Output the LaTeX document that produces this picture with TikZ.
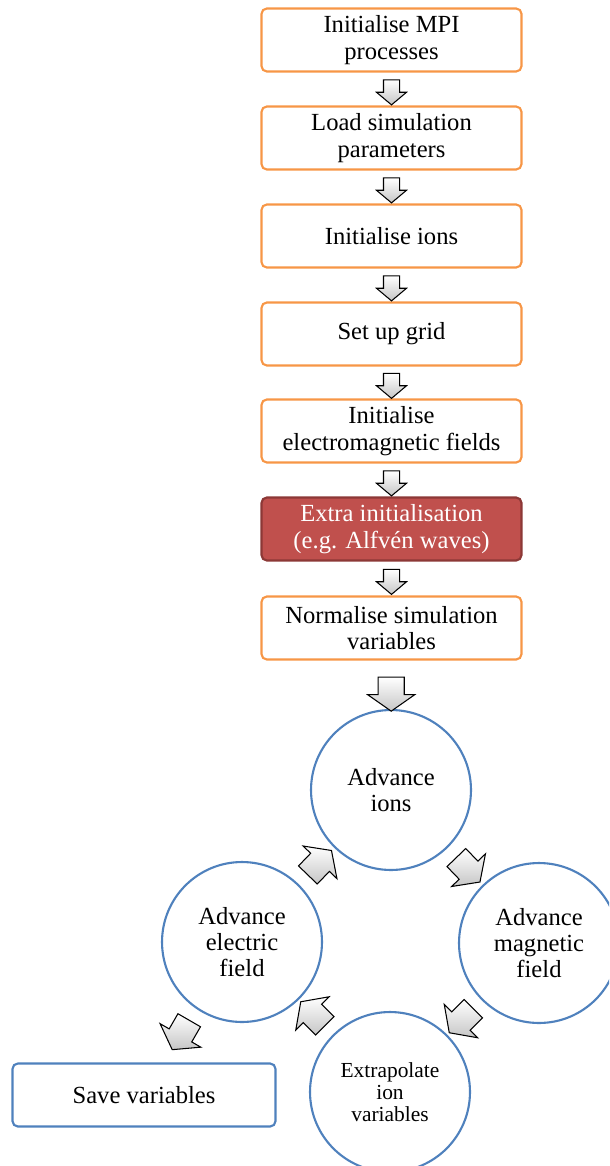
\documentclass[tikz,border=0pt]{standalone}
\usepackage{fontspec}
\setmainfont{Liberation Serif}
\usetikzlibrary{shapes.arrows,calc}
\definecolor{boxorange}{RGB}{247,150,70}
\definecolor{boxred}{RGB}{192,80,77}
\definecolor{boxredline}{RGB}{140,56,54}
\definecolor{loopblue}{RGB}{79,129,189}
\tikzset{
  initbox/.style={draw=boxorange,line width=1.2pt,rounded corners=3pt,fill=white,minimum width=5.2cm,minimum height=1.26cm,align=center,font=\fontsize{14}{15}\selectfont},
  extrabox/.style={initbox,draw=boxredline,fill=boxred,text=white},
  outbox/.style={initbox,draw=loopblue,minimum width=5.26cm},
  loopstep/.style={circle,draw=loopblue,line width=1.2pt,fill=white,minimum size=3.2cm,inner sep=0pt,align=center,font=\fontsize{14}{15}\selectfont},
  barrow/.style={single arrow,draw=black,line width=0.6pt,top color=white,bottom color=gray!45,inner xsep=0pt,inner ysep=0.15cm,minimum height=0.5cm,single arrow head extend=0.14cm,single arrow tip angle=100},
  bigarrow/.style={barrow,inner ysep=0.25cm,minimum height=0.68cm,single arrow head extend=0.21cm,single arrow tip angle=110}
}
\begin{document}
\begin{tikzpicture}[x=0.02cm,y=-0.02cm]
\clip (0,0) rectangle (609,1166);
% set-up stages
\node[initbox] (mpi) at (391.5,40) {Initialise MPI\\processes};
\node[initbox] (params) at (391.5,138) {Load simulation\\parameters};
\node[initbox] (ions0) at (391.5,236) {Initialise ions};
\node[initbox] (grid) at (391.5,334) {Set up grid};
\node[initbox] (fields) at (391.5,431) {Initialise\\electromagnetic fields};
\node[extrabox] (extra) at (391.5,529) {Extra initialisation\\(e.g. Alfvén waves)};
\node[initbox] (norm) at (391.5,628) {Normalise simulation\\variables};
% main loop
\node[loopstep] (ions) at (391,790) {Advance\\ions};
\node[loopstep] (bfield) at (539,943) {Advance\\magnetic\\field};
\node[loopstep,font=\fontsize{12.2}{12.6}\selectfont] (extrap) at (390,1092) {Extrapolate\\ion\\variables};
\node[loopstep] (efield) at (242,942) {Advance\\electric\\field};
\node[outbox] (save) at (144,1095) {Save variables};
% block arrows
\foreach \a/\b in {mpi/params,params/ions0,ions0/grid,grid/fields,fields/extra,extra/norm}
  \node[barrow,rotate=-90] at ($(\a.south)!0.5!(\b.north)$) {};
\node[bigarrow,rotate=-90] (into) at ($(norm.south)!0.6!(ions.north)$) {};
\node[bigarrow,rotate=-46] (ib) at ($(ions)!0.5!(bfield)$) {};
\node[bigarrow,rotate=-135] (bx) at ($(bfield)!0.5!(extrap)$) {};
\node[bigarrow,rotate=135] (xe) at ($(extrap)!0.5!(efield)$) {};
\node[bigarrow,rotate=46] (ei) at ($(efield)!0.5!(ions)$) {};
\node[bigarrow,rotate=-120] (es) at (183,1031) {};
\end{tikzpicture}
\end{document}
